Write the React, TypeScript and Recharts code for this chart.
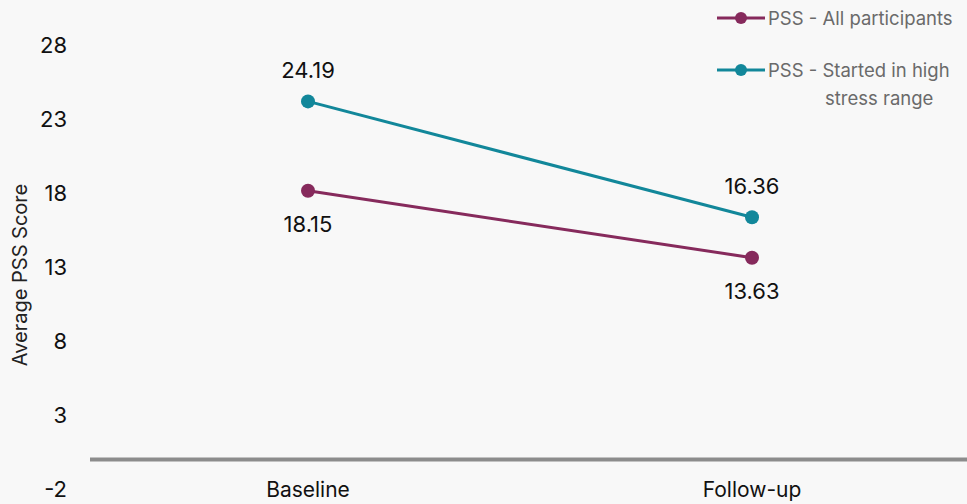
import React from 'react';
import { LineChart, Line, XAxis, YAxis, ReferenceLine, LabelList, Legend } from 'recharts';

const categories = ['Baseline', 'Follow-up'];
const allParticipants = [18.15, 13.63];
const highStress = [24.19, 16.36];
const yTicks = [-2, 3, 8, 13, 18, 23, 28];
const seriesNames = ['PSS - All participants', 'PSS - Started in high stress range'];
const legendLines = [['PSS - All participants'], ['PSS - Started in high', 'stress range']];
const yLabel = 'Average PSS Score';

const PURPLE = '#862a5c';
const TEAL = '#12879a';
const FONT = 'Inter, sans-serif';

const data = categories.map((name, i) => ({ name, all: allParticipants[i], high: highStress[i] }));

const colors = [PURPLE, TEAL];

const LegendContent = () => (
  <svg width={255} height={110} style={{ display: 'block' }}>
    {legendLines.map((lines, i) => {
      const y = 18 + i * 52;
      return (
        <g key={seriesNames[i]}>
          <line x1={5} x2={53} y1={y} y2={y} stroke={colors[i]} strokeWidth={3} />
          <circle cx={29} cy={y} r={6} fill={colors[i]} />
          {lines.map((t, j) => (
            <text
              key={t}
              x={j === 0 ? 56 : 113}
              y={y + j * 28}
              dominantBaseline="central"
              fontSize={18.5}
              fill="#6a6a6a"
              fontFamily={FONT}
            >
              {t}
            </text>
          ))}
        </g>
      );
    })}
  </svg>
);

const YLabel = () => {
  const cx = 27;
  const cy = 275;
  return (
    <text
      x={cx}
      y={cy}
      transform={`rotate(-90, ${cx}, ${cy})`}
      textAnchor="middle"
      fontSize={20}
      fill="#222"
      fontFamily={FONT}
    >
      {yLabel}
    </text>
  );
};

const fmt = (v: any) => (typeof v === 'number' ? v.toFixed(2) : v);

export default function App() {
  return (
    <div style={{ width: 967, height: 504, background: '#f8f8f8', fontFamily: FONT, position: 'relative' }}>
      <style>{`body{margin:0;background:#f8f8f8;}`}</style>
      <LineChart
        width={967}
        height={504}
        data={data}
        margin={{ top: 45, right: 0, bottom: 0, left: 0 }}
      >
        <XAxis
          dataKey="name"
          axisLine={false}
          tickLine={false}
          tickSize={0}
          tickMargin={0}
          height={15}
          padding={{ left: 218, right: 215 }}
          tick={{ fontSize: 21, fill: '#111', dy: -7 }}
          interval={0}
        />
        <YAxis
          type="number"
          domain={[-2, 28]}
          ticks={yTicks}
          interval={0}
          width={90}
          axisLine={false}
          tickLine={false}
          tickSize={0}
          tickMargin={23}
          tick={{ fontSize: 22, fill: '#111' }}
          label={<YLabel />}
        />
        <ReferenceLine y={0} stroke="#8c8c8c" strokeWidth={4} ifOverflow="extendDomain" />
        <Legend
          layout="vertical"
          align="center"
          verticalAlign="middle"
          wrapperStyle={{ left: 712, top: 0, width: 255, height: 110 }}
          content={<LegendContent />}
        />
        <Line
          dataKey="all"
          name={seriesNames[0]}
          stroke={PURPLE}
          strokeWidth={3}
          dot={{ r: 7, fill: PURPLE, stroke: PURPLE, strokeWidth: 0 }}
          isAnimationActive={false}
        >
          <LabelList dataKey="all" position="bottom" offset={26} fontSize={22} fill="#111" formatter={fmt} />
        </Line>
        <Line
          dataKey="high"
          name={seriesNames[1]}
          stroke={TEAL}
          strokeWidth={3}
          dot={{ r: 7, fill: TEAL, stroke: TEAL, strokeWidth: 0 }}
          isAnimationActive={false}
        >
          <LabelList dataKey="high" position="top" offset={23} fontSize={22} fill="#111" formatter={fmt} />
        </Line>
      </LineChart>
    </div>
  );
}
